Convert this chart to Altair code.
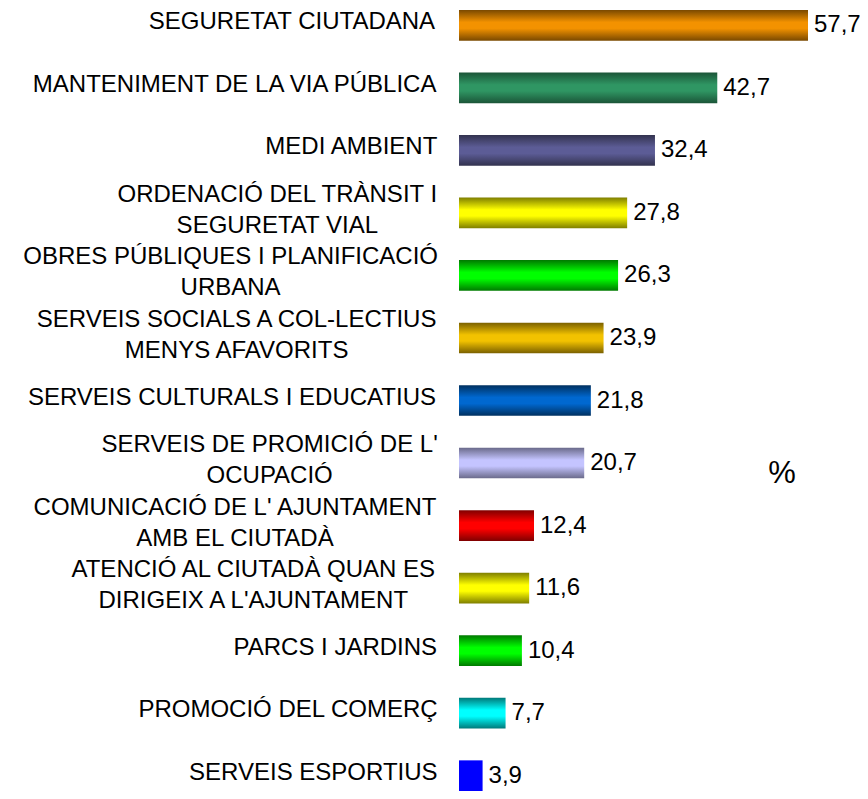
import unicodedata
import altair as alt
import pandas as pd

labels = [
    "SEGURETAT CIUTADANA",
    "MANTENIMENT DE LA VIA PÚBLICA",
    "MEDI AMBIENT",
    "ORDENACIÓ DEL TRÀNSIT I\nSEGURETAT VIAL",
    "OBRES PÚBLIQUES I PLANIFICACIÓ\nURBANA",
    "SERVEIS SOCIALS A COL-LECTIUS\nMENYS AFAVORITS",
    "SERVEIS CULTURALS I EDUCATIUS",
    "SERVEIS DE PROMICIÓ DE L'\nOCUPACIÓ",
    "COMUNICACIÓ DE L' AJUNTAMENT\nAMB EL CIUTADÀ",
    "ATENCIÓ AL CIUTADÀ QUAN ES\nDIRIGEIX A L'AJUNTAMENT",
    "PARCS I JARDINS",
    "PROMOCIÓ DEL COMERÇ",
    "SERVEIS ESPORTIUS",
]
values = [57.7, 42.7, 32.4, 27.8, 26.3, 23.9, 21.8, 20.7, 12.4, 11.6, 10.4, 7.7, 3.9]

bright = ["#f39200", "#2f9663", "#5c5c96", "#ffff00", "#00ff00", "#f2c200",
          "#0068d0", "#c4c4ff", "#ff0000", "#ffff00", "#00ff00", "#00ffff", "#0000ff"]
dark = ["#7a4900", "#1b5538", "#33334f", "#7f7f00", "#007a00", "#7a6000",
        "#00305f", "#6a6a8a", "#800000", "#7f7f00", "#007a00", "#007a7a", "#0000ff"]

FONT = "Liberation Sans"
FS = 24
LH = 31
LABEL_RIGHT = -21   # px, relative to the plot's left edge

# Arial / Liberation Sans advance widths (1/1000 em)
W = {" ": 278, "A": 667, "B": 667, "C": 722, "D": 722, "E": 667, "F": 611, "G": 778,
     "H": 722, "I": 278, "J": 500, "K": 667, "L": 556, "M": 833, "N": 722, "O": 778,
     "P": 667, "Q": 778, "R": 722, "S": 667, "T": 611, "U": 722, "V": 667, "W": 944,
     "X": 667, "Y": 667, "Z": 611, "'": 191, "-": 333, ".": 278}


def text_width(s):
    return sum(W.get(unicodedata.normalize("NFD", c)[0], 600) for c in s) * FS / 1000


keys = [l.replace("\n", " ") for l in labels]
df = pd.DataFrame({
    "cat": keys,
    "label": labels,
    "v": values,
})
df["lx"] = [LABEL_RIGHT - max(text_width(p) for p in l.split("\n")) / 2 for l in labels]
df["multi"] = ["\n" in l for l in labels]

xscale = alt.Scale(domain=[0, max(values)], nice=False, zero=True)
yscale = alt.Scale(paddingInner=0.51, paddingOuter=0)
Y = alt.Y("cat:N", sort=keys, scale=yscale, axis=None)

base = alt.Chart(df)

bar_layers = []
for k, b, d in zip(keys, bright, dark):
    grad = alt.Gradient(
        gradient="linear",
        stops=[alt.GradientStop(color=d, offset=0),
               alt.GradientStop(color=b, offset=0.4),
               alt.GradientStop(color=b, offset=0.6),
               alt.GradientStop(color=d, offset=1)],
        x1=0, x2=0, y1=0, y2=1,
    )
    bar_layers.append(
        base.transform_filter(alt.datum.cat == k)
        .mark_bar(color=grad)
        .encode(x=alt.X("v:Q", scale=xscale, axis=None), y=Y)
    )

values_text = base.transform_calculate(
    t="replace(format(datum.v, '.1f'), '.', ',')"
).mark_text(align="left", baseline="middle", dx=6, font=FONT, fontSize=FS, color="black").encode(
    x=alt.X("v:Q", scale=xscale, axis=None), y=Y, text="t:N"
)

label_single = base.transform_filter("!datum.multi").mark_text(
    align="center", baseline="middle", dy=-3, lineBreak="\n", lineHeight=LH,
    font=FONT, fontSize=FS, color="black"
).encode(
    x=alt.X("lx:Q", scale=None, axis=None), y=Y, text="label:N"
)

label_multi = base.transform_filter("datum.multi").mark_text(
    align="center", baseline="middle", dy=-18, lineBreak="\n", lineHeight=LH,
    font=FONT, fontSize=FS, color="black"
).encode(
    x=alt.X("lx:Q", scale=None, axis=None), y=Y, text="label:N"
)

pct = alt.Chart(pd.DataFrame({"t": ["%"]})).mark_text(
    align="center", baseline="middle", font=FONT, fontSize=31, color="black"
).encode(x=alt.value(323), y=alt.value(464), text="t:N")

chart = alt.layer(*bar_layers, values_text, label_single, label_multi, pct).properties(
    width=349, height=781,
    autosize=alt.AutoSizeParams(type="none"),
    padding={"left": 451, "top": 2, "right": 52, "bottom": 0},
).configure_view(stroke=None)

chart.save("out.html", embed_options={"renderer": "svg", "actions": False})
